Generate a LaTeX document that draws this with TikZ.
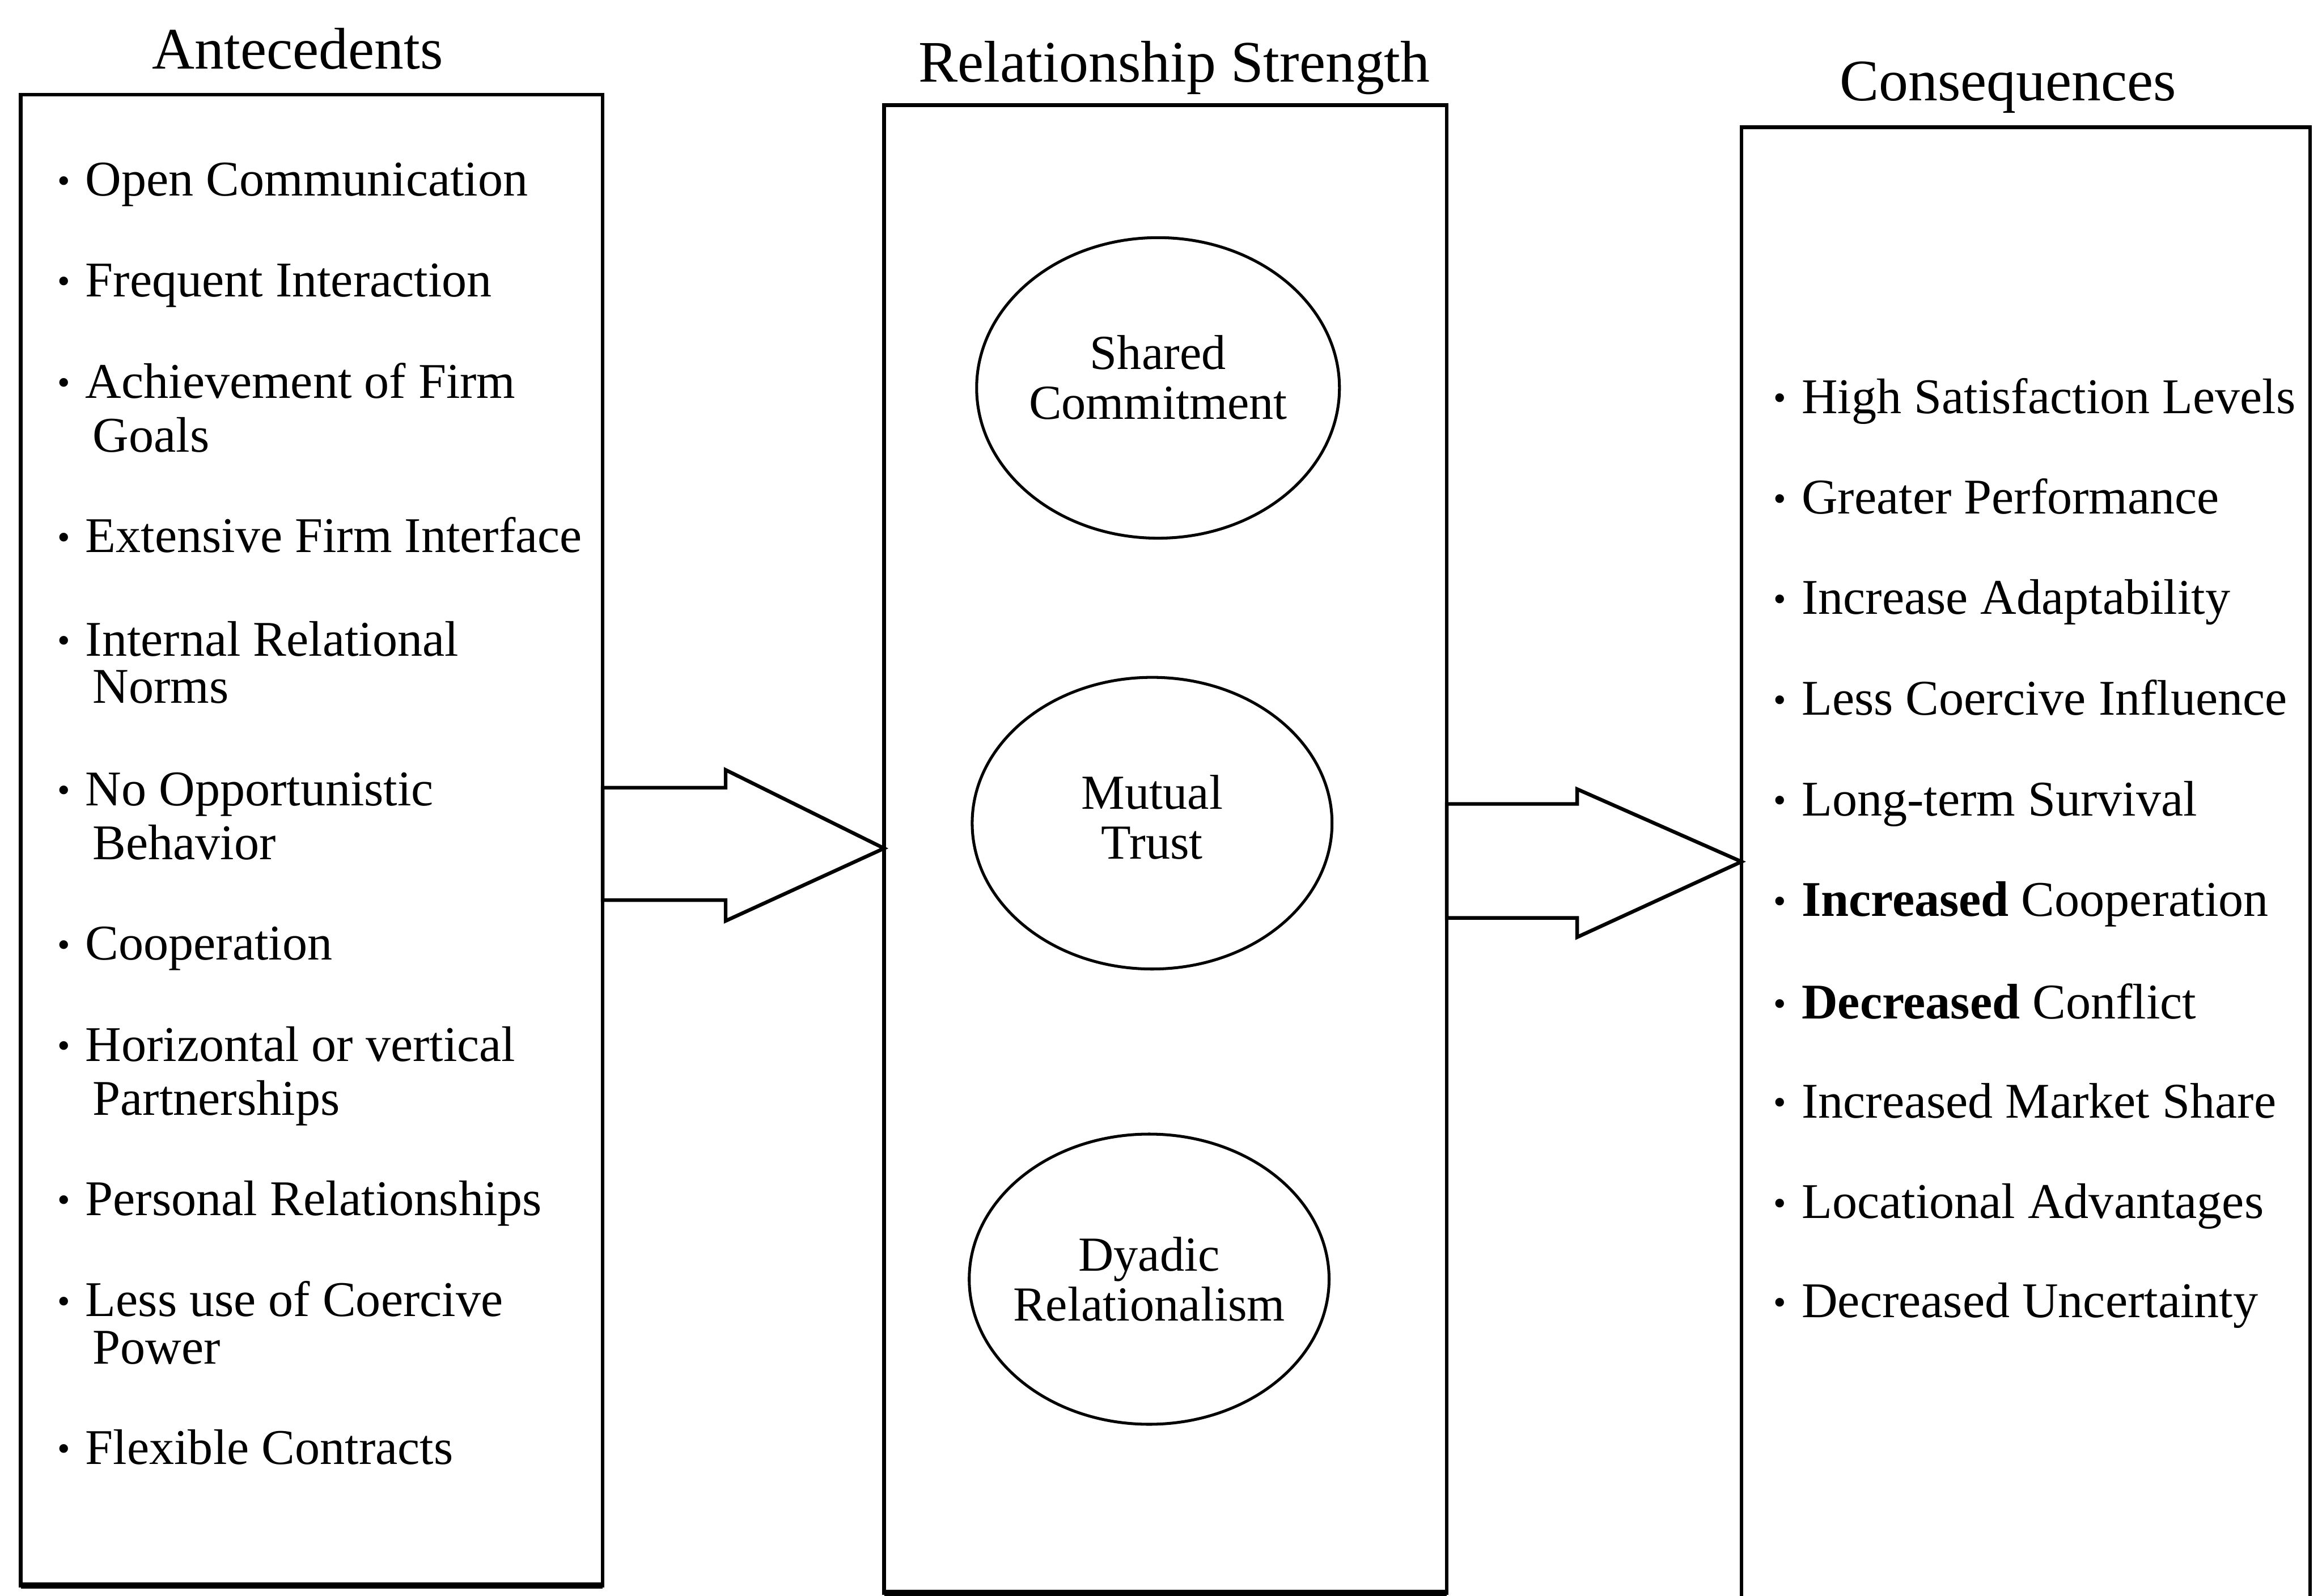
\documentclass[tikz,border=0pt]{standalone}
\usepackage{fontspec}
\setmainfont{Liberation Serif}
\usetikzlibrary{fit,shapes.geometric}
\newcommand{\blt}{\makebox[1.9mm][l]{\fontsize{7}{7}\selectfont\raisebox{0.6pt}{•}}}
\newcommand{\ind}{\hspace*{2.4mm}}
\begin{document}
\begin{tikzpicture}[x=0.1mm,y=-0.1mm,
  box/.style={draw, line width=0.7pt, inner sep=0pt, outer sep=0pt},
  ell/.style={draw, ellipse, line width=0.55pt, inner sep=0pt},
  elltext/.style={inner sep=0pt, align=center, font=\fontsize{9.4}{9.6}\selectfont},
  ttl/.style={inner sep=0pt, font=\fontsize{11.3}{13}\selectfont},
  itm/.style={anchor=west, align=left, inner sep=0pt, font=\fontsize{9.6}{9.07}\selectfont},
  blockarrow/.style={draw, line width=0.7pt, fill=white, line join=miter},
  bottomedge/.style={line width=1.2pt}]
\useasboundingbox (0,0) rectangle (1568,1078);

% boxes
\node[box, fit={(14,64) (407,1071)}] (ant) {};
\node[box, fit={(597,71) (977,1076)}] (rel) {};
\node[box, fit={(1176,86) (1560,1100)}] (con) {};
\draw[bottomedge] (ant.south west) -- (ant.south east);
\draw[bottomedge] (rel.south west) -- (rel.south east);

% titles
\node[ttl] (antT) at (201,33) {Antecedents};
\node[ttl] (relT) at (793,46) {Relationship Strength};
\node[ttl] (conT) at (1356,59) {Consequences};

% ellipses
\node[ell, minimum width=24.5mm, minimum height=20.3mm] (sc) at (782,262) {};
\node[ell, minimum width=24.3mm, minimum height=19.7mm] (mt) at (778,556) {};
\node[ell, minimum width=24.3mm, minimum height=19.6mm] (dr) at (776,864) {};
\node[elltext] (scT) at (782,255) {Shared\\Commitment};
\node[elltext] (mtT) at (778,552) {Mutual\\Trust};
\node[elltext] (drT) at (776,864) {Dyadic\\Relationalism};

% block arrows
\draw[blockarrow] (ant.east |- 0,532) -- (490,532) -- (490,520) -- (rel.west |- 0,573)
  -- (490,622) -- (490,608) -- (ant.east |- 0,608) -- cycle;
\draw[blockarrow] (rel.east |- 0,543) -- (1065,543) -- (1065,533) -- (con.west |- 0,582)
  -- (1065,633) -- (1065,620) -- (rel.east |- 0,620) -- cycle;

% antecedents
\node[itm] (a1) at (38,126) {\blt Open Communication\strut};
\node[itm] (a2) at (38,194) {\blt Frequent Interaction\strut};
\node[itm] (a3) at (38,280) {\blt Achievement of Firm\strut\\\ind Goals\strut};
\node[itm] (a4) at (38,366) {\blt Extensive Firm Interface\strut};
\node[itm] (a5) at (38,452) {\blt Internal Relational\strut\\\ind Norms\strut};
\node[itm] (a6) at (38,556) {\blt No Opportunistic\strut\\\ind Behavior\strut};
\node[itm] (a7) at (38,642) {\blt Cooperation\strut};
\node[itm] (a8) at (38,728) {\blt Horizontal or vertical\strut\\\ind Partnerships\strut};
\node[itm] (a9) at (38,814) {\blt Personal Relationships\strut};
\node[itm] (a10) at (38,898) {\blt Less use of Coercive\strut\\\ind Power\strut};
\node[itm] (a11) at (38,982) {\blt Flexible Contracts\strut};

% consequences
\node[itm] (c1) at (1197,272) {\blt High Satisfaction Levels\strut};
\node[itm] (c2) at (1197,340) {\blt Greater Performance\strut};
\node[itm] (c3) at (1197,408) {\blt Increase Adaptability\strut};
\node[itm] (c4) at (1197,476) {\blt Less Coercive Influence\strut};
\node[itm] (c5) at (1197,544) {\blt Long-term Survival\strut};
\node[itm] (c6) at (1197,612) {\blt \textbf{Increased} Cooperation\strut};
\node[itm] (c7) at (1197,681) {\blt \textbf{Decreased} Conflict\strut};
\node[itm] (c8) at (1197,748) {\blt Increased Market Share\strut};
\node[itm] (c9) at (1197,816) {\blt Locational Advantages\strut};
\node[itm] (c10) at (1197,883) {\blt Decreased Uncertainty\strut};
\end{tikzpicture}
\end{document}
